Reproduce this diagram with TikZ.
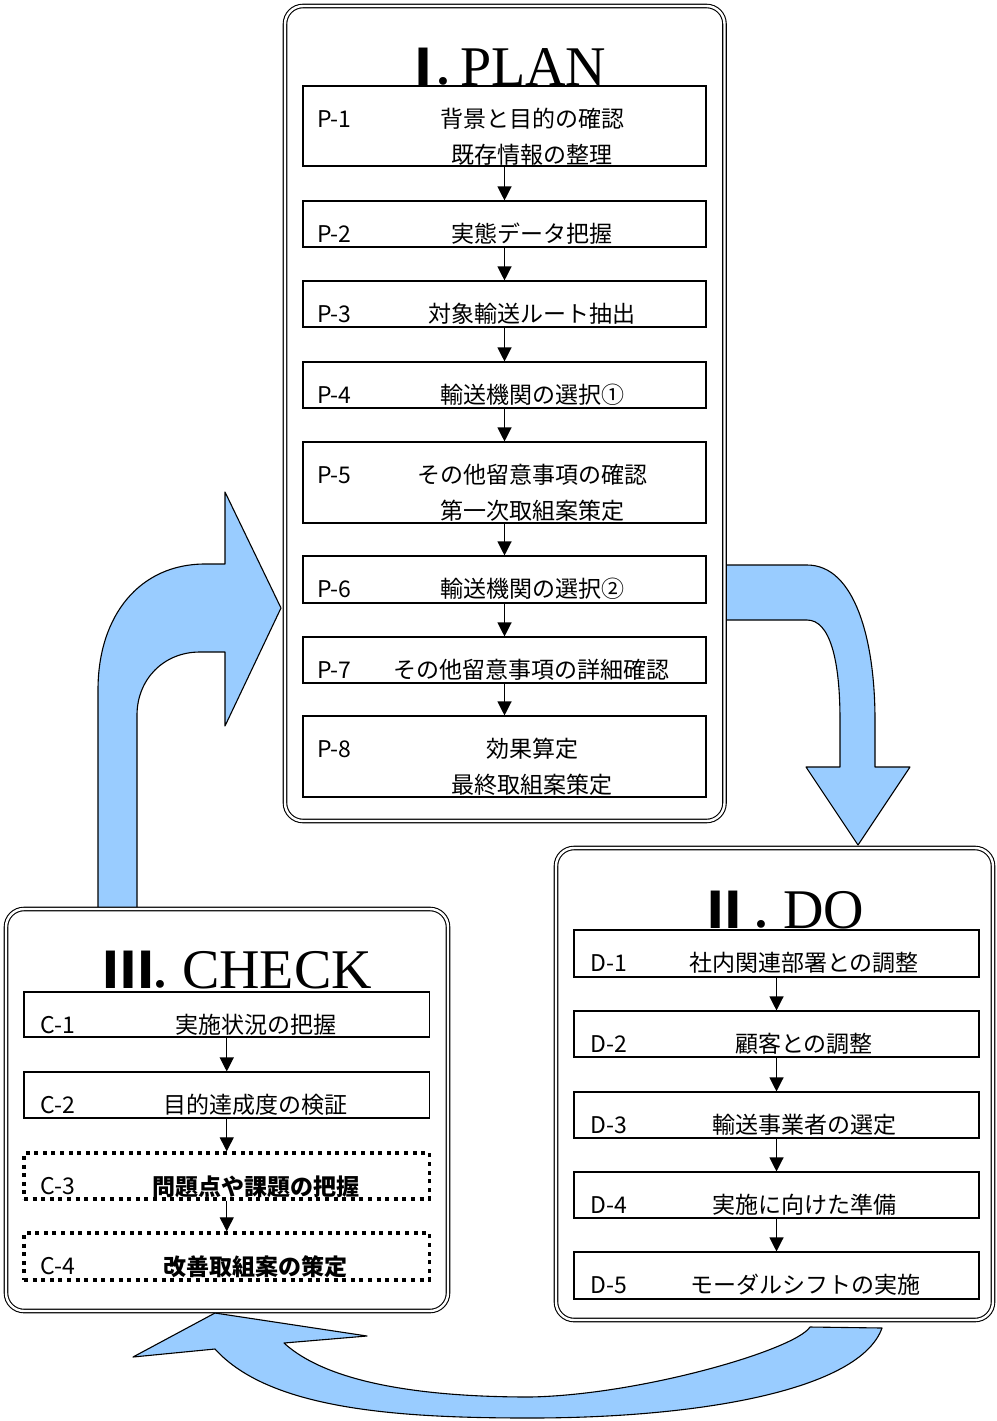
\documentclass[tikz,border=0pt]{standalone}
\usepackage{fontspec}
\newfontfamily\jp{Noto Sans CJK JP}
\newfontfamily\ser{Liberation Serif}
\usetikzlibrary{arrows.meta}
\definecolor{arrowblue}{HTML}{99CCFF}
% #1 numeral, #2 offset to full stop, #3 offset from full stop to word, #4 word
\newcommand\ttl[4]{\makebox[0pt][l]{\jp\bfseries\fontsize{50}{50}\selectfont #1}\hspace*{#2}\makebox[0pt][l]{\jp\fontsize{50}{50}\selectfont ．}\hspace*{#3}{\ser\fontsize{56}{56}\selectfont #4}}
\tikzset{
  container/.style={draw, double, double distance=2.4pt, line width=1.1pt, rounded corners=18pt, fill=white, inner sep=0pt},
  stepbox/.style={draw, line width=1.1pt, fill=white, inner sep=0pt},
  dotbox/.style={draw, line width=3.4pt, dash pattern=on 4pt off 4.6pt, inner sep=0pt},
  flow/.style={line width=1.2pt, -{Triangle[length=14pt,width=14pt]}},
  big/.style={fill=arrowblue, draw=black, line width=1.1pt, line join=round},
  lbl/.style={anchor=base west, font=\jp\fontsize{23}{23}\selectfont, inner sep=0pt},
  txt/.style={anchor=base, font=\jp\fontsize{23}{23}\selectfont, inner sep=0pt},
  btxt/.style={anchor=base, font=\jp\bfseries\fontsize{23}{23}\selectfont, inner sep=0pt},
  ttlnode/.style={anchor=base west, inner sep=0pt},
}
\begin{document}
\begin{tikzpicture}[x=1pt,y=-1pt]
\useasboundingbox (0,0) rectangle (996,1421);
% big blue arrows
\draw[big] (98,910) -- (98,690) .. controls (98,615) and (140,564) .. (205,564) -- (225,564) -- (225,492) -- (281,608) -- (225,726) -- (225,652) -- (200,652) .. controls (163,652) and (137,680) .. (137,715) -- (137,910) -- cycle;
\draw[big] (720,565) -- (807,565) .. controls (855,565) and (875,640) .. (875,720) -- (875,767) -- (910,767) -- (858,845) -- (806,767) -- (840,767) -- (840,720) .. controls (840,660) and (830,620) .. (807,620) -- (720,620) -- cycle;
\draw[big] (215,1313) -- (367,1336) -- (284,1343) .. controls (330,1385) and (430,1397) .. (530,1397) .. controls (640,1395) and (795,1350) .. (810,1327) -- (882,1328) .. controls (860,1390) and (700,1418) .. (530,1418) .. controls (400,1418) and (270,1410) .. (215,1349) -- (133,1357) -- cycle;
% containers
\node[container, minimum width=439.5pt, minimum height=815pt] (plan) at (504.75,413.5) {};
\node[container, minimum width=442pt, minimum height=402pt] (check) at (227,1110) {};
\node[container, minimum width=437pt, minimum height=472pt] (do) at (774.5,1084) {};
% titles
\node[ttlnode] (tplan) at (398,85) {\ttl{Ⅰ}{33pt}{29pt}{PLAN}};
\node[ttlnode] (tcheck) at (103,988) {\ttl{Ⅲ}{45pt}{34pt}{CHECK}};
\node[ttlnode] (tdo) at (699,928) {\ttl{Ⅱ}{50pt}{34pt}{DO}};
% PLAN steps
\node[stepbox, minimum width=403pt, minimum height=80pt] (p1) at (504.5,126) {};
\node[stepbox, minimum width=403pt, minimum height=46pt] (p2) at (504.5,224) {};
\node[stepbox, minimum width=403pt, minimum height=46pt] (p3) at (504.5,304) {};
\node[stepbox, minimum width=403pt, minimum height=46pt] (p4) at (504.5,385) {};
\node[stepbox, minimum width=403pt, minimum height=81pt] (p5) at (504.5,482.5) {};
\node[stepbox, minimum width=403pt, minimum height=47pt] (p6) at (504.5,579.5) {};
\node[stepbox, minimum width=403pt, minimum height=46pt] (p7) at (504.5,660) {};
\node[stepbox, minimum width=403pt, minimum height=81pt] (p8) at (504.5,756.5) {};
\node[lbl] (p1l) at (317,127) {P-1};
\node[txt] (p1a) at (532,127) {背景と目的の確認};
\node[txt] (p1b) at (532,163) {既存情報の整理};
\node[lbl] (p2l) at (317,242) {P-2};
\node[txt] (p2a) at (532,242) {実態データ把握};
\node[lbl] (p3l) at (317,322) {P-3};
\node[txt] (p3a) at (532,322) {対象輸送ルート抽出};
\node[lbl] (p4l) at (317,403) {P-4};
\node[txt] (p4a) at (532,403) {輸送機関の選択①};
\node[lbl] (p5l) at (317,483) {P-5};
\node[txt] (p5a) at (532,483) {その他留意事項の確認};
\node[txt] (p5b) at (532,519) {第一次取組案策定};
\node[lbl] (p6l) at (317,597) {P-6};
\node[txt] (p6a) at (532,597) {輸送機関の選択②};
\node[lbl] (p7l) at (317,678) {P-7};
\node[txt] (p7a) at (531,678) {その他留意事項の詳細確認};
\node[lbl] (p8l) at (317,757) {P-8};
\node[txt] (p8a) at (532,757) {効果算定};
\node[txt] (p8b) at (532,793) {最終取組案策定};
\foreach \a/\b in {p1/p2,p2/p3,p3/p4,p4/p5,p5/p6,p6/p7,p7/p8}
  \draw[flow] (\a.south) -- (\b.north);
% CHECK steps
\node[stepbox, minimum width=405.5pt, minimum height=45pt] (c1) at (226.75,1014.5) {};
\node[stepbox, minimum width=405.5pt, minimum height=46pt] (c2) at (226.75,1095) {};
\node[dotbox, minimum width=405.5pt, minimum height=46pt] (c3) at (226.75,1176) {};
\node[dotbox, minimum width=405.5pt, minimum height=47pt] (c4) at (226.75,1256.5) {};
\node[lbl] (c1l) at (40,1033) {C-1};
\node[txt] (c1a) at (255.5,1033) {実施状況の把握};
\node[lbl] (c2l) at (40,1113) {C-2};
\node[txt] (c2a) at (255.5,1113) {目的達成度の検証};
\node[lbl] (c3l) at (40,1194) {C-3};
\node[btxt] (c3a) at (255.5,1195) {問題点や課題の把握};
\node[lbl] (c4l) at (40,1274) {C-4};
\node[btxt] (c4a) at (255.5,1275) {改善取組案の策定};
\foreach \a/\b in {c1/c2,c2/c3,c3/c4}
  \draw[flow] (\a.south) -- (\b.north);
% DO steps
\node[stepbox, minimum width=405pt, minimum height=47pt] (d1) at (776.5,953.5) {};
\node[stepbox, minimum width=405pt, minimum height=46pt] (d2) at (776.5,1034) {};
\node[stepbox, minimum width=405pt, minimum height=46pt] (d3) at (776.5,1115) {};
\node[stepbox, minimum width=405pt, minimum height=46pt] (d4) at (776.5,1195) {};
\node[stepbox, minimum width=405pt, minimum height=47pt] (d5) at (776.5,1275.5) {};
\node[lbl] (d1l) at (590,971) {D-1};
\node[txt] (d1a) at (804,971) {社内関連部署との調整};
\node[lbl] (d2l) at (590,1052) {D-2};
\node[txt] (d2a) at (804,1052) {顧客との調整};
\node[lbl] (d3l) at (590,1133) {D-3};
\node[txt] (d3a) at (804,1133) {輸送事業者の選定};
\node[lbl] (d4l) at (590,1213) {D-4};
\node[txt] (d4a) at (804,1213) {実施に向けた準備};
\node[lbl] (d5l) at (590,1293) {D-5};
\node[txt] (d5a) at (805,1293) {モーダルシフトの実施};
\foreach \a/\b in {d1/d2,d2/d3,d3/d4,d4/d5}
  \draw[flow] (\a.south) -- (\b.north);
\end{tikzpicture}
\end{document}
